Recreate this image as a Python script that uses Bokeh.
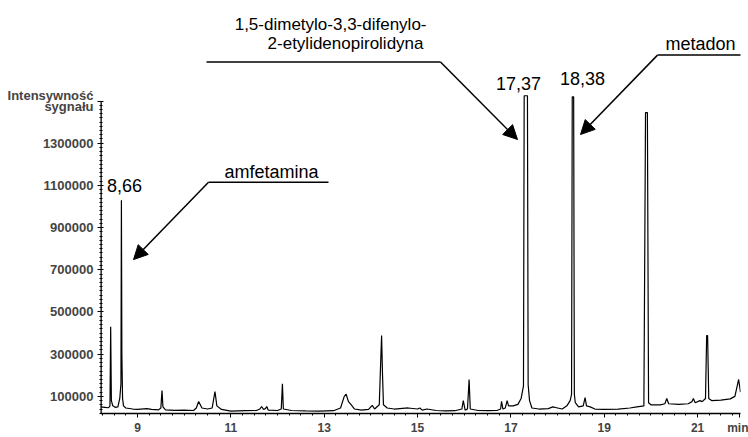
from bokeh.plotting import figure
from bokeh.models import Range1d, FixedTicker, Label, Arrow, NormalHead
from bokeh.embed import file_html
from bokeh.resources import INLINE

# ---- data (retention time [min], signal intensity) ----
times = [8.21, 8.30, 8.38, 8.41, 8.425, 8.44, 8.47, 8.52, 8.58, 8.62, 8.645, 8.655, 8.665, 8.68, 8.70, 8.75,
         8.90, 9.00, 9.20, 9.30, 9.45, 9.50, 9.525, 9.545, 9.60, 9.80, 10.00, 10.20, 10.26, 10.31, 10.38,
         10.50, 10.60, 10.66, 10.70, 10.80, 11.00, 11.30, 11.55, 11.62, 11.66, 11.70, 11.74, 11.77, 11.80,
         12.00, 12.08, 12.105, 12.125, 12.30, 12.60, 12.90, 13.20, 13.35, 13.43, 13.47, 13.52, 13.58, 13.65,
         13.80, 13.95, 14.03, 14.08, 14.18, 14.21, 14.23, 14.25, 14.27, 14.35, 14.50, 14.80, 15.00, 15.05,
         15.10, 15.20, 15.40, 15.60, 15.80, 15.95, 15.98, 16.02, 16.07, 16.105, 16.13, 16.30, 16.50, 16.70,
         16.78, 16.80, 16.83, 16.88, 16.92, 16.95, 17.05, 17.15, 17.22, 17.27, 17.285, 17.355, 17.37, 17.40,
         17.45, 17.60, 17.80, 17.90, 18.00, 18.10, 18.20, 18.27, 18.30, 18.315, 18.345, 18.36, 18.38, 18.45,
         18.55, 18.59, 18.62, 18.70, 18.80, 19.00, 19.30, 19.55, 19.70, 19.85, 19.885, 19.925, 19.95, 20.00,
         20.20, 20.30, 20.34, 20.38, 20.60, 20.80, 20.88, 20.91, 20.95, 21.05, 21.10, 21.17, 21.195, 21.215,
         21.24, 21.30, 21.50, 21.70, 21.80, 21.88, 21.92]
intensity = [50000, 48000, 46000, 55000, 430000, 80000, 55000, 48000, 50000, 90000, 160000, 1030000, 300000, 90000, 55000, 45000,
             40000, 38000, 42000, 38000, 36000, 45000, 128000, 50000, 36000, 34000, 35000, 33000, 45000, 76000, 45000,
             40000, 45000, 123000, 55000, 38000, 30000, 32000, 33000, 40000, 52000, 38000, 42000, 52000, 35000,
             33000, 40000, 160000, 40000, 33000, 31000, 30000, 32000, 45000, 100000, 110000, 75000, 60000, 40000,
             35000, 38000, 57000, 40000, 60000, 260000, 388000, 200000, 60000, 45000, 40000, 45000, 40000, 45000,
             35000, 40000, 33000, 31000, 32000, 40000, 80000, 35000, 40000, 180000, 40000, 33000, 32000, 33000,
             40000, 76000, 40000, 45000, 80000, 55000, 55000, 62000, 90000, 150000, 1525000, 1525000, 155000, 80000,
             45000, 40000, 42000, 50000, 45000, 40000, 55000, 80000, 110000, 1520000, 1520000, 110000, 70000, 50000,
             55000, 94000, 55000, 50000, 40000, 38000, 40000, 45000, 50000, 55000, 1445000, 1445000, 70000, 60000,
             60000, 65000, 90000, 65000, 62000, 65000, 75000, 90000, 70000, 80000, 75000, 90000, 388000, 388000,
             90000, 80000, 82000, 88000, 100000, 180000, 120000]

x_ticks = [9, 11, 13, 15, 17, 19, 21, 21.9]
x_tick_labels = ["9", "11", "13", "15", "17", "19", "21", "min"]
y_ticks = [100000, 300000, 500000, 700000, 900000, 1100000, 1300000, 1500000]
y_tick_labels = ["100000", "300000", "500000", "700000", "900000", "1100000", "1300000",
                 "Intensywność\nsygnału"]
y_axis_top = 1500000
peak_labels = ["8,66", "17,37", "18,38"]

# ---- layout ----
W, H = 748, 437
L, R, T, B = 100, 8, 0, 21
X0, X1 = 8.207, 21.92
Y0 = 18800
Y_PER_PX = 200000 / 42.5
Y1 = Y0 + (H - T - B) * Y_PER_PX
FW, FH = W - L - R, H - T - B

def sx(px):
    return X0 + (px - L) / FW * (X1 - X0)

def sy(py):
    return Y0 + (H - B - py) / FH * (Y1 - Y0)

FONT = "Liberation Sans"

p = figure(width=W, height=H, x_range=Range1d(X0, X1), y_range=Range1d(Y0, Y1),
           output_backend="svg", toolbar_location=None,
           min_border_left=L, min_border_right=R, min_border_top=T, min_border_bottom=B)
p.outline_line_color = None
p.xgrid.visible = False
p.ygrid.visible = False
p.background_fill_color = "white"
p.border_fill_color = "white"

p.line(times, intensity, line_color="black", line_width=1.2)

xa = p.xaxis[0]
xa.ticker = FixedTicker(ticks=x_ticks, minor_ticks=[8.25 + 0.25 * i for i in range(55)])
xa.major_label_overrides = dict(zip(x_ticks, x_tick_labels))
xa.major_label_text_font = FONT
xa.major_label_text_font_size = "12px"
xa.major_label_text_font_style = "bold"
xa.major_tick_in = 0
xa.major_tick_out = 4
xa.minor_tick_in = 0
xa.minor_tick_out = 2
xa.axis_line_width = 1.3
xa.major_label_standoff = 3

ya = p.yaxis[0]
ya.ticker = FixedTicker(ticks=y_ticks, minor_ticks=[20000 * i for i in range(1, 76)])
ya.major_label_overrides = dict(zip(y_ticks, y_tick_labels))
ya.major_label_text_font = FONT
ya.major_label_text_font_size = "13px"
ya.major_label_text_font_style = "bold"
ya.major_label_text_line_height = 0.75
ya.major_tick_in = 3
ya.major_tick_out = 3
ya.minor_tick_in = 2
ya.minor_tick_out = 1
ya.axis_line_color = None
ya.major_label_standoff = 4
# y axis line only up to the top tick
p.segment(x0=[X0], y0=[Y0], x1=[X0], y1=[y_axis_top], line_color="black", line_width=2.6)

def label(px, py, text, size, align="center", style="normal"):
    p.add_layout(Label(x=sx(px), y=sy(py), text=text, text_align=align, text_baseline="middle",
                       text_font=FONT, text_font_size=size, text_font_style=style, text_color="black"))

label(124, 186, peak_labels[0], "18px")
label(518, 84, peak_labels[1], "18px")
label(582, 79, peak_labels[2], "18px")

label(426, 24, "1,5-dimetylo-3,3-difenylo-", "17px", "right")
label(423, 43, "2-etylidenopirolidyna", "17px", "right")
label(700, 44, "metadon", "18px")
label(271, 173, "amfetamina", "18px")

def line(p1, p2, head=False):
    kw = dict(x_start=sx(p1[0]), y_start=sy(p1[1]), x_end=sx(p2[0]), y_end=sy(p2[1]),
              line_color="black", line_width=1.5)
    if head:
        kw["end"] = NormalHead(size=14, fill_color="black", line_color="black")
    else:
        kw["end"] = None
    p.add_layout(Arrow(**kw))

line((206, 62), (440, 62))
line((440, 62), (517, 140), True)
line((657, 55), (747, 55))
line((657, 55), (580, 135), True)
line((208, 183), (328, 183))
line((208, 183), (133, 261), True)

open("out.html", "w").write(file_html(p, INLINE))
